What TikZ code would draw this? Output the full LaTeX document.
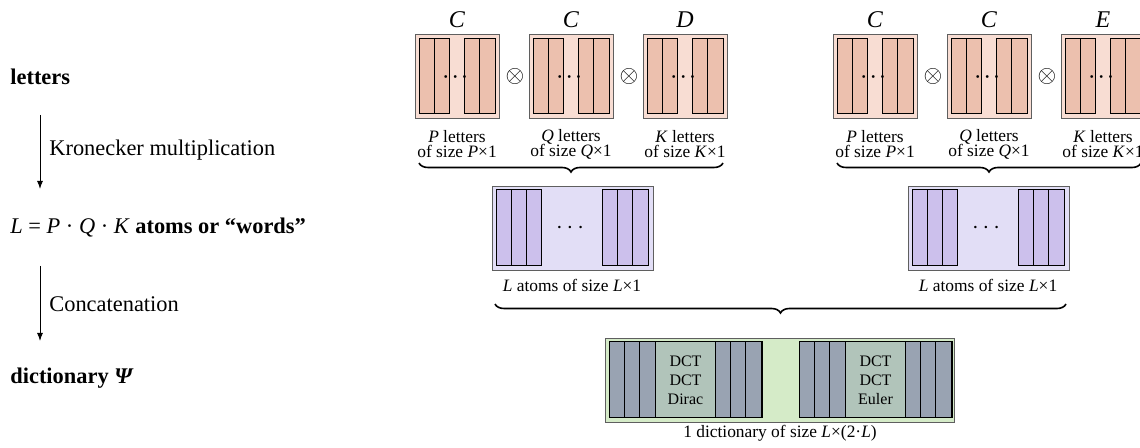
\documentclass[tikz,border=0pt]{standalone}
\usepackage{fontspec}
\setmainfont{Liberation Serif}
\usetikzlibrary{decorations.pathreplacing,arrows.meta}
\definecolor{lOuter}{RGB}{248,221,211}
\definecolor{lStrip}{RGB}{236,192,174}
\definecolor{aOuter}{RGB}{226,222,246}
\definecolor{aStrip}{RGB}{204,192,236}
\definecolor{dOuter}{RGB}{213,235,200}
\definecolor{dStrip}{RGB}{153,163,178}
\definecolor{dMid}{RGB}{177,196,186}
\definecolor{boxgray}{RGB}{95,95,95}
\newcommand{\mainsz}{\fontsize{11.2}{13.4}\selectfont}
\newcommand{\headsz}{\fontsize{12}{14}\selectfont}
\newcommand{\labsz}{\fontsize{8.7}{7.6}\selectfont}
\tikzset{
  outerbox/.style={draw=boxgray, line width=0.7pt, inner sep=0pt, anchor=north west},
  strip/.style={draw=black, line width=0.5pt},
  lefttext/.style={anchor=west, font=\mainsz, inner sep=0pt},
  steplabel/.style={anchor=west, font=\mainsz, inner sep=0pt},
  smalllab/.style={font=\labsz, align=center, inner sep=0pt},
  headlab/.style={font=\headsz, anchor=base, inner sep=0pt},
  otimes/.style={font=\fontsize{12}{12}\selectfont, inner sep=0pt},
  flowarrow/.style={-{Latex[length=4pt,width=3pt]}, line width=0.5pt},
  bracestyle/.style={decorate, decoration={brace, mirror, amplitude=4.5pt}, line width=0.8pt},
}
\newcommand{\lettbox}[5]{%
  \node[outerbox, fill=lOuter, minimum width=42pt, minimum height=42pt] (#1) at (#2,#3) {};
  \foreach \o in {4,19.2,49.6,64.8} \draw[strip, fill=lStrip] (#2+\o,#3+4.5) rectangle ++(15.2,75);
  \node[font=\fontsize{9.5}{9.5}\selectfont, inner sep=0pt] (#1dots) at (#2+42,#3+43) {$\boldsymbol{\cdots}$};
  \node[headlab] (#1head) at (#2+42,#3-6.5) {\textit{#4}};
  \node[smalllab] (#1lab) at (#2+42,#3+110) {\textit{#5} letters\\of size \textit{#5}×1};
}
\newcommand{\atombox}[3]{%
  \node[outerbox, fill=aOuter, minimum width=80.5pt, minimum height=42pt] (#1) at (#2,#3) {};
  \foreach \o in {4,19.3,34.6,110.1,125.4,140.7} \draw[strip, fill=aStrip] (#2+\o,#3+4) rectangle ++(15.3,76);
  \node[font=\fontsize{12}{12}\selectfont, inner sep=0pt] (#1dots) at (#2+80,#3+42) {$\cdots$};
  \node[smalllab] (#1lab) at (#2+80,#3+99) {\textit{L} atoms of size \textit{L}×1};
}
\newcommand{\dictgroup}[3]{%
  \draw[strip, fill=dMid] (#2,342) rectangle (#2+153,418);
  \foreach \o in {0,15.33,30.67,106,121.33,136.67} \draw[strip, fill=dStrip] (#2+\o,342) rectangle ++(15.33,76);
  \node[font=\fontsize{8}{9.6}\selectfont, align=center, inner sep=0pt] (#1) at (#2+76.5,380) {#3};
}
\usepackage{amsmath}
\begin{document}
\begin{tikzpicture}[x=0.5pt,y=-0.5pt]
\clip (0,0) rectangle (1140,448);
\fill[white] (0,0) rectangle (1140,448);

% left column
\node[lefttext] (tletters) at (10,77) {\textbf{letters}};
\node[lefttext] (tatoms) at (10,228) {\textit{L} = \textit{P} · \textit{Q} · \textit{K} \textbf{atoms or “words”}};
\node[lefttext] (tdict) at (10,378) {\textbf{dictionary \textit{Ψ}}};
\coordinate (a1s) at (40,115);
\coordinate (a1e) at (40,189);
\coordinate (a2s) at (40,266);
\coordinate (a2e) at (40,341);
\draw[flowarrow] (a1s) -- (a1e);
\draw[flowarrow] (a2s) -- (a2e);
\node[steplabel] (kron) at (49,150) {Kronecker multiplication};
\node[steplabel] (conc) at (49,304) {Concatenation};

% top row, left group
\lettbox{la}{415}{34}{C}{P}
\lettbox{lb}{529}{34}{C}{Q}
\lettbox{lc}{643}{34}{D}{K}
\node[otimes] (ox1) at (515,77) {$\otimes$};
\node[otimes] (ox2) at (629,77) {$\otimes$};
% top row, right group
\lettbox{ra}{833}{34}{C}{P}
\lettbox{rb}{947}{34}{C}{Q}
\lettbox{rc}{1061}{34}{E}{K}
\node[otimes] (ox3) at (933,77) {$\otimes$};
\node[otimes] (ox4) at (1047,77) {$\otimes$};

% braces top
\coordinate (b1s) at (419,163);
\coordinate (b1e) at (723,163);
\coordinate (b2s) at (837,163);
\coordinate (b2e) at (1141,163);
\draw[bracestyle] (b1s) -- (b1e);
\draw[bracestyle] (b2s) -- (b2e);

% atoms
\atombox{aa}{492}{186}
\atombox{ab}{908}{186}

% brace bottom
\coordinate (b3s) at (495,304);
\coordinate (b3e) at (1066,304);
\draw[bracestyle] (b3s) -- (b3e);

% dictionary
\node[outerbox, fill=dOuter, minimum width=174.5pt, minimum height=42pt] (dict) at (605,338) {};
\dictgroup{dg1}{609}{DCT\\DCT\\Dirac}
\dictgroup{dg2}{799}{DCT\\DCT\\Euler}
\node[smalllab] (dictlab) at (780,433) {1 dictionary of size \textit{L}×(2·\textit{L})};
\end{tikzpicture}
\end{document}
